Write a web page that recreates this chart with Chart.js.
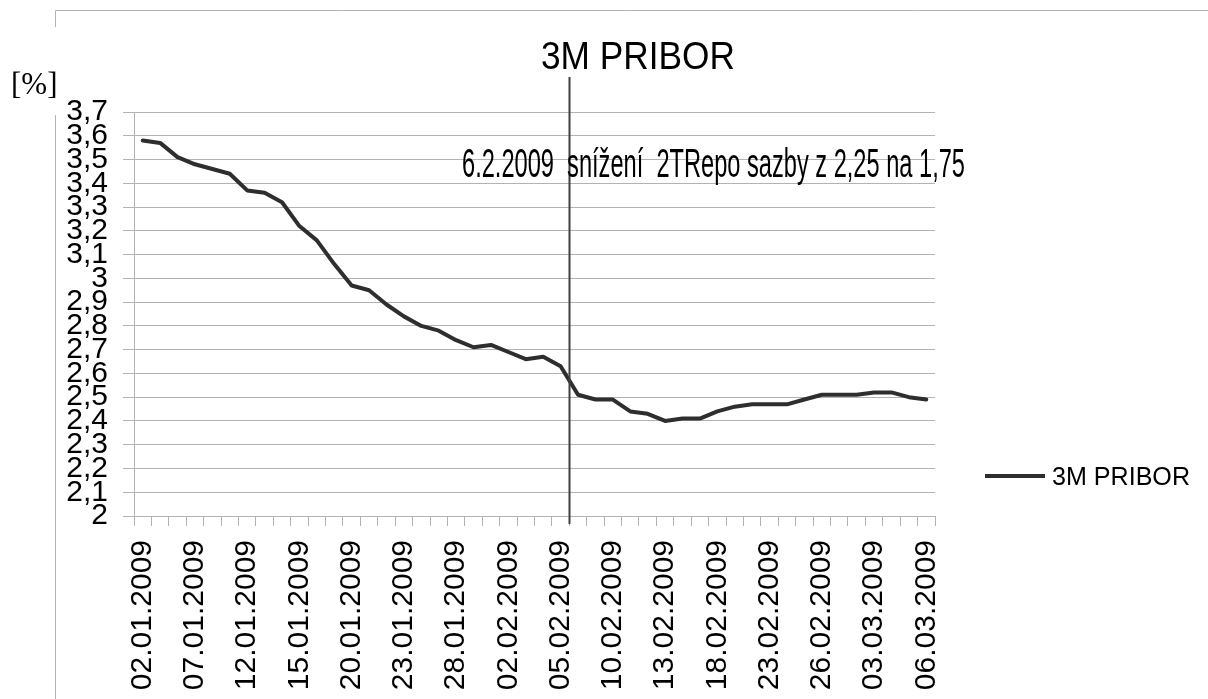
<!DOCTYPE html>
<html><head><meta charset="utf-8">
<script src="https://cdn.jsdelivr.net/npm/chart.js@4/dist/chart.umd.min.js"></script>
<style>html,body{margin:0;padding:0;background:#fff;}canvas{display:block;}</style>
</head><body>
<canvas id="c" width="1208" height="699"></canvas>
<script>
// ---- data ----
const categories = [
  '02.01.2009','05.01.2009','06.01.2009','07.01.2009','08.01.2009','09.01.2009',
  '12.01.2009','13.01.2009','14.01.2009','15.01.2009','16.01.2009',
  '19.01.2009','20.01.2009','21.01.2009','22.01.2009','23.01.2009',
  '26.01.2009','27.01.2009','28.01.2009','29.01.2009','30.01.2009',
  '02.02.2009','03.02.2009','04.02.2009','05.02.2009','06.02.2009',
  '09.02.2009','10.02.2009','11.02.2009','12.02.2009','13.02.2009',
  '16.02.2009','17.02.2009','18.02.2009','19.02.2009','20.02.2009',
  '23.02.2009','24.02.2009','25.02.2009','26.02.2009','27.02.2009',
  '02.03.2009','03.03.2009','04.03.2009','05.03.2009','06.03.2009'
];
const pribor3m = [
  3.58,3.57,3.51,3.48,3.46,3.44,
  3.37,3.36,3.32,3.22,3.16,
  3.06,2.97,2.95,2.89,2.84,
  2.80,2.78,2.74,2.71,2.72,
  2.69,2.66,2.67,2.63,2.51,
  2.49,2.49,2.44,2.43,2.40,
  2.41,2.41,2.44,2.46,2.47,
  2.47,2.47,2.49,2.51,2.51,
  2.51,2.52,2.52,2.50,2.49
];
const seriesName = '3M PRIBOR';
const chartTitle = '3M PRIBOR';
const yUnit = '[%]';
const eventDate = '06.02.2009';
const eventText = '6.2.2009  snížení  2TRepo sazby z 2,25 na 1,75';
const yMin = 2, yMax = 3.7, yStep = 0.1;
const xLabelEvery = 3;

function czNum(v) {
  const r = Math.round(v * 10) / 10;
  return String(r).replace('.', ',');
}

function squeezedText(ctx, text, x, y, font, targetW) {
  ctx.save();
  ctx.font = font;
  const w = ctx.measureText(text).width;
  ctx.translate(x, y);
  ctx.scale(targetW / w, 1);
  ctx.textAlign = 'left';
  ctx.textBaseline = 'alphabetic';
  ctx.fillStyle = '#000';
  ctx.fillText(text, 0, 0);
  ctx.restore();
}

const decor = {
  id: 'decor',
  beforeDraw(chart) {
    const ctx = chart.ctx;
    ctx.save();
    ctx.fillStyle = '#fff';
    ctx.fillRect(0, 0, chart.width, chart.height);
    ctx.strokeStyle = '#b3b3b3';
    ctx.lineWidth = 1;
    ctx.beginPath();
    ctx.moveTo(55.5, 699); ctx.lineTo(55.5, 115);
    ctx.moveTo(55.5, 27); ctx.lineTo(55.5, 10.5); ctx.lineTo(1208, 10.5);
    ctx.stroke();
    ctx.fillStyle = '#000';
    ctx.font = '31px "Liberation Serif"';
    ctx.textBaseline = 'alphabetic';
    ctx.fillText(yUnit, 11, 94);
    ctx.restore();
  },
  afterDraw(chart) {
    const ctx = chart.ctx;
    const xs = chart.scales.x;
    const idx = categories.indexOf(eventDate) - 0.5;
    const px = Math.round(xs.getPixelForValue(idx)) + 0.5;
    ctx.save();
    ctx.strokeStyle = '#404040';
    ctx.lineWidth = 2;
    ctx.beginPath();
    ctx.moveTo(px, 77); ctx.lineTo(px, chart.chartArea.bottom + 8);
    ctx.stroke();
    ctx.restore();
    squeezedText(ctx, chartTitle, 541, 69, '38px "Liberation Sans"', 194);
    squeezedText(ctx, eventText, 462, 177, '40px "Liberation Sans"', 503);
    // legend
    const ds = chart.data.datasets[0];
    ctx.save();
    ctx.strokeStyle = ds.borderColor;
    ctx.lineWidth = 4;
    ctx.beginPath();
    ctx.moveTo(985, 476); ctx.lineTo(1045, 476);
    ctx.stroke();
    ctx.restore();
    squeezedText(ctx, ds.label, 1052, 485, '25px "Liberation Sans"', 138);
  }
};

new Chart(document.getElementById('c'), {
  type: 'line',
  data: {
    labels: categories,
    datasets: [{
      label: seriesName,
      data: pribor3m,
      borderColor: '#2e2e2e',
      borderWidth: 4,
      pointRadius: 0,
      tension: 0,
      borderJoinStyle: 'round',
      borderCapStyle: 'round',
      fill: false
    }]
  },
  options: {
    responsive: false,
    animation: false,
    layout: { padding: { left: 0, top: 112, right: 273, bottom: 0 } },
    plugins: {
      legend: { display: false },
      title: { display: false },
      tooltip: { enabled: false }
    },
    scales: {
      x: {
        type: 'category',
        offset: true,
        grid: { drawOnChartArea: false, color: '#b3b3b3', tickLength: 10, offset: true },
        border: { color: '#b3b3b3', width: 1 },
        ticks: {
          autoSkip: false, maxRotation: 90, minRotation: 90, padding: 14,
          color: '#000', font: { family: 'Liberation Sans', size: 30 },
          callback: (v, i) => (i % xLabelEvery === 0 ? categories[i] : '')
        },
        afterFit: s => { s.height = 183; }
      },
      y: {
        min: yMin, max: yMax,
        grid: { color: '#b3b3b3', tickLength: 11 },
        border: { color: '#b3b3b3', width: 1 },
        ticks: {
          stepSize: yStep, autoSkip: false, padding: 15, color: '#000',
          font: { family: 'Liberation Sans', size: 30 },
          callback: v => czNum(v)
        },
        afterFit: s => { s.width = 134; }
      }
    }
  },
  plugins: [decor]
});
</script>
</body></html>
